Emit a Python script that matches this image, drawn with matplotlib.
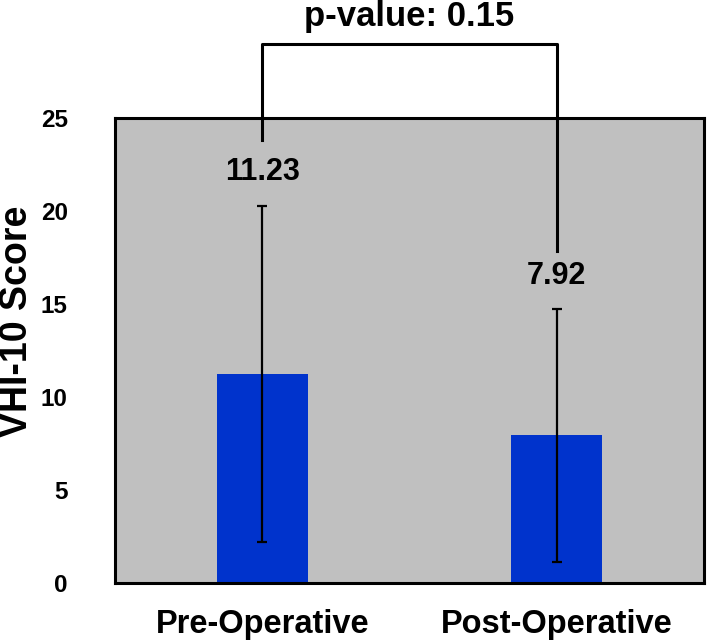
import numpy as np
import matplotlib
matplotlib.use("Agg")
import matplotlib.pyplot as plt

plt.rcParams['font.family'] = ['Liberation Sans', 'DejaVu Sans']
plt.rcParams['font.weight'] = 'bold'

# Data
groups = ["Pre-Operative", "Post-Operative"]
means = [11.23, 7.92]
sds = [9.05, 6.8]
p_value = 0.15

x = np.arange(len(groups))

fig = plt.figure(figsize=(7.07, 6.42), dpi=100)
ax = fig.add_axes([0.1627, 0.0924, 0.833, 0.7238])
ax.set_facecolor("#C0C0C0")

ax.bar(x, means, width=0.31, color="#0033CC", zorder=2)
ax.errorbar(x, means, yerr=sds, fmt="none", ecolor="black", elinewidth=1.6,
            capsize=3.5, capthick=1.6, zorder=3)

# value labels above the error bars
for xi, m, s in zip(x, means, sds):
    ax.text(xi, m + s + 1.8, f"{m:.2f}", ha="center", va="center",
            fontsize=22, fontweight="bold")

# significance bracket
top = 29.0
ax.plot([x[0], x[0], x[1], x[1]],
        [means[0] + sds[0] + 3.55, top, top, means[1] + sds[1] + 3.1],
        color="black", lw=2.2, clip_on=False, zorder=4)
ax.text((x[0] + x[1]) / 2, 30.45, f"p-value: {p_value}", ha="center", va="center",
        fontsize=25, fontweight="bold")

ax.set_xlim(-0.5, 1.5)
ax.set_ylim(0, 25)
ax.set_yticks([0, 5, 10, 15, 20, 25])
ax.set_xticks(x)
ax.set_xticklabels(groups, fontsize=23.5, fontweight="bold")
ax.tick_params(axis="y", length=0, pad=34, labelsize=17.5)
ax.tick_params(axis="x", length=0, pad=19)

fig.text(17 / 707, 0.5, "VHI-10 Score", rotation=90, ha="center", va="center",
         fontsize=27, fontweight="bold")

for sp in ax.spines.values():
    sp.set_linewidth(2.2)
    sp.set_color("black")

fig.savefig("out.png", dpi=100)
